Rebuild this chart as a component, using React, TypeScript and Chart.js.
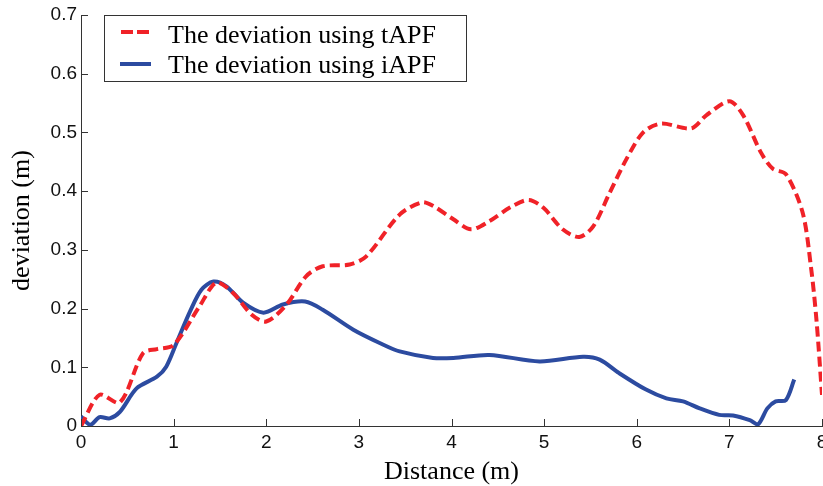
import React, { useEffect, useRef } from "react";
import { Chart, registerables } from "chart.js";

Chart.register(...registerables);

const tapfX = [0, 0.2, 0.42, 0.67, 0.82, 1.0, 1.28, 1.46, 1.64, 1.84, 2.0, 2.22, 2.43, 2.61, 2.9, 3.08, 3.44, 3.68, 3.8, 4.02, 4.21, 4.41, 4.63, 4.83, 4.99, 5.2, 5.38, 5.53, 5.71, 5.89, 6.07, 6.26, 6.59, 6.75, 7.0, 7.15, 7.34, 7.47, 7.61, 7.79, 7.88, 7.94, 8.0];
const tapfY = [0, 0.053, 0.04, 0.124, 0.131, 0.138, 0.204, 0.244, 0.227, 0.19, 0.178, 0.207, 0.255, 0.272, 0.275, 0.289, 0.36, 0.381, 0.375, 0.352, 0.335, 0.349, 0.372, 0.385, 0.372, 0.335, 0.322, 0.34, 0.398, 0.455, 0.5, 0.515, 0.507, 0.529, 0.553, 0.529, 0.466, 0.438, 0.429, 0.364, 0.272, 0.181, 0.053];

const iapfX = [0, 0.1, 0.2, 0.31, 0.42, 0.6, 0.82, 0.92, 1.03, 1.18, 1.3, 1.43, 1.57, 1.75, 1.97, 2.18, 2.42, 2.61, 2.94, 3.23, 3.44, 3.8, 4.02, 4.41, 4.95, 5.42, 5.6, 5.81, 6.1, 6.32, 6.5, 6.68, 6.89, 7.04, 7.22, 7.31, 7.41, 7.5, 7.61, 7.7];
const iapfY = [0.016, 0.002, 0.015, 0.013, 0.024, 0.064, 0.084, 0.101, 0.141, 0.196, 0.232, 0.246, 0.238, 0.21, 0.193, 0.207, 0.212, 0.198, 0.164, 0.141, 0.127, 0.116, 0.116, 0.121, 0.11, 0.118, 0.113, 0.09, 0.062, 0.047, 0.042, 0.03, 0.019, 0.018, 0.01, 0.003, 0.03, 0.042, 0.044, 0.079];

const seriesLabels = ["The deviation using tAPF", "The deviation using iAPF"];
const xTitle = "Distance (m)";
const yTitle = "deviation (m)";

const RED = "rgb(240,34,40)";
const BLUE = "rgb(44,75,160)";

const decorPlugin = {
  id: "decor",
  afterDraw(chart: any) {
    const ctx = chart.ctx;
    const area = chart.chartArea;
    const xs = chart.scales.x;
    const ys = chart.scales.y;
    ctx.save();
    ctx.strokeStyle = "#333";
    ctx.lineWidth = 1;
    ctx.beginPath();
    ys.ticks.forEach((t: any) => {
      const py = Math.round(ys.getPixelForValue(t.value)) + 0.5;
      ctx.moveTo(area.left, py);
      ctx.lineTo(area.left + 7, py);
    });
    xs.ticks.forEach((t: any) => {
      const px = Math.round(xs.getPixelForValue(t.value)) + 0.5;
      ctx.moveTo(px, area.bottom);
      ctx.lineTo(px, area.bottom - 7);
    });
    ctx.stroke();

    ctx.fillStyle = "#000";
    ctx.font = "26px 'Liberation Serif'";
    ctx.textAlign = "center";
    ctx.textBaseline = "alphabetic";
    ctx.fillText(xTitle, (area.left + area.right) / 2, 479);
    ctx.save();
    ctx.translate(22, (area.top + area.bottom) / 2);
    ctx.rotate(-Math.PI / 2);
    ctx.textBaseline = "middle";
    ctx.fillText(yTitle, 0, 0);
    ctx.restore();

    const bx = 104.5, by = 15.5, bw = 362, bh = 66;
    ctx.fillStyle = "#fff";
    ctx.fillRect(bx, by, bw, bh);
    ctx.strokeStyle = "#333";
    ctx.lineWidth = 1;
    ctx.strokeRect(bx, by, bw, bh);

    ctx.lineWidth = 4;
    ctx.strokeStyle = RED;
    ctx.setLineDash([12, 4]);
    ctx.beginPath();
    ctx.moveTo(121, 32);
    ctx.lineTo(149, 32);
    ctx.stroke();
    ctx.setLineDash([]);
    ctx.strokeStyle = BLUE;
    ctx.beginPath();
    ctx.moveTo(120, 64);
    ctx.lineTo(151, 64);
    ctx.stroke();

    ctx.fillStyle = "#000";
    ctx.font = "26px 'Liberation Serif'";
    ctx.textAlign = "left";
    ctx.textBaseline = "alphabetic";
    ctx.fillText(seriesLabels[0], 168, 42.5);
    ctx.fillText(seriesLabels[1], 168, 72.5);
    ctx.restore();
  },
};

export default function App() {
  const ref = useRef<HTMLCanvasElement | null>(null);
  useEffect(() => {
    if (!ref.current) return;
    const chart = new Chart(ref.current, {
      type: "line",
      data: {
        datasets: [
          {
            label: seriesLabels[0],
            data: tapfX.map((x, i) => ({ x, y: tapfY[i] })),
            borderColor: RED,
            borderWidth: 4,
            borderDash: [10, 5],
            pointRadius: 0,
            tension: 0.3,
            fill: false,
          },
          {
            label: seriesLabels[1],
            data: iapfX.map((x, i) => ({ x, y: iapfY[i] })),
            borderColor: BLUE,
            borderWidth: 4,
            pointRadius: 0,
            tension: 0.3,
            fill: false,
          },
        ],
      },
      options: {
        responsive: false,
        animation: false,
        layout: { padding: { top: 15, right: 1, left: 0, bottom: 0 } },
        plugins: {
          legend: { display: false },
          tooltip: { enabled: false },
        },
        scales: {
          x: {
            type: "linear",
            min: 0,
            max: 8,
            ticks: {
              stepSize: 1,
              padding: 5,
              color: "#111",
              font: { family: "'Liberation Sans'", size: 19 },
            },
            grid: { display: false, drawTicks: false },
            border: { display: true, color: "#333", width: 1 },
            afterFit: (s: any) => {
              s.height = 60;
              s.paddingLeft = 0;
              s.paddingRight = 0;
            },
          },
          y: {
            type: "linear",
            min: 0,
            max: 0.7,
            ticks: {
              stepSize: 0.1,
              padding: 4,
              color: "#111",
              font: { family: "'Liberation Sans'", size: 19 },
            },
            grid: { display: false, drawTicks: false },
            border: { display: true, color: "#333", width: 1 },
            afterFit: (s: any) => {
              s.width = 81;
              s.paddingTop = 0;
              s.paddingBottom = 0;
            },
          },
        },
      },
      plugins: [decorPlugin],
    });
    return () => chart.destroy();
  }, []);
  return (
    <div style={{ position: "absolute", left: 0, top: 0, width: 823, height: 486, background: "#fff" }}>
      <canvas ref={ref} width={823} height={486} />
    </div>
  );
}
